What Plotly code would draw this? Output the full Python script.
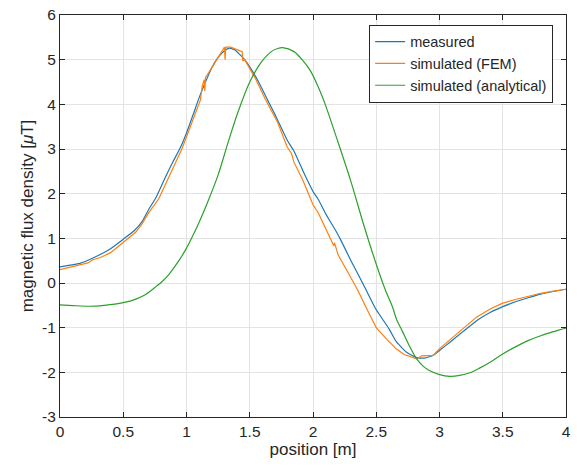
import plotly.graph_objects as go

# measured
meas_x = [0.0, 0.08, 0.157, 0.26, 0.39, 0.5, 0.59, 0.65, 0.7, 0.76, 0.835, 0.89, 0.95, 1.0, 1.05, 1.1, 1.15,
          1.2, 1.25, 1.3, 1.34, 1.38, 1.42, 1.46, 1.5, 1.57, 1.64, 1.7, 1.72, 1.8, 1.85, 1.93, 2.0, 2.04,
          2.1, 2.14, 2.19, 2.22, 2.3, 2.41, 2.5, 2.6, 2.66, 2.74, 2.82, 2.88, 2.92, 2.96, 3.0, 3.08, 3.18,
          3.31, 3.4, 3.5, 3.6, 3.7, 3.8, 3.9, 4.0]
meas_y = [0.36, 0.4, 0.44, 0.56, 0.75, 0.98, 1.18, 1.38, 1.64, 1.92, 2.38, 2.7, 3.02, 3.36, 3.75, 4.15, 4.5,
          4.82, 5.05, 5.2, 5.26, 5.22, 5.12, 5.0, 4.84, 4.5, 4.1, 3.77, 3.65, 3.18, 2.95, 2.45, 2.05, 1.88,
          1.55, 1.36, 1.12, 0.96, 0.5, -0.1, -0.6, -1.02, -1.32, -1.55, -1.67, -1.68, -1.65, -1.6, -1.51,
          -1.33, -1.1, -0.81, -0.66, -0.53, -0.42, -0.33, -0.25, -0.19, -0.14]

# simulated (FEM)
fem_x = [0.0, 0.08, 0.16, 0.22, 0.26, 0.32, 0.4, 0.5, 0.6, 0.65, 0.7, 0.78, 0.85, 0.9, 0.965, 1.03, 1.08,
         1.11, 1.125, 1.14, 1.145, 1.15, 1.2, 1.25, 1.28, 1.3, 1.305, 1.31, 1.35, 1.42, 1.44, 1.445, 1.46,
         1.49, 1.55, 1.62, 1.7, 1.72, 1.795, 1.83, 1.85, 1.92, 2.0, 2.04, 2.1, 2.14, 2.165, 2.17, 2.2,
         2.27, 2.35, 2.42, 2.5, 2.58, 2.66, 2.72, 2.82, 2.86, 2.95, 3.0, 3.09, 3.18, 3.29, 3.4, 3.5, 3.6,
         3.7, 3.8, 3.9, 4.0]
fem_y = [0.3, 0.35, 0.4, 0.45, 0.52, 0.57, 0.68, 0.9, 1.14, 1.33, 1.57, 1.88, 2.3, 2.62, 3.01, 3.5, 3.88,
         4.1, 4.42, 4.55, 4.3, 4.6, 4.82, 5.05, 5.2, 5.28, 5.0, 5.28, 5.28, 5.2, 5.18, 4.97, 5.0, 4.85,
         4.55, 4.13, 3.7, 3.6, 3.05, 2.9, 2.7, 2.3, 1.75, 1.58, 1.22, 1.0, 0.83, 0.9, 0.62, 0.27, -0.14,
         -0.55, -1.0, -1.25, -1.48, -1.6, -1.7, -1.63, -1.62, -1.47, -1.25, -1.02, -0.77, -0.58, -0.45,
         -0.37, -0.3, -0.23, -0.18, -0.14]

# simulated (analytical)
ana_x = [0.0, 0.1, 0.235, 0.35, 0.5, 0.6, 0.68, 0.75, 0.81, 0.86, 0.94, 1.0, 1.04, 1.1, 1.17, 1.25, 1.33,
         1.41, 1.5, 1.59, 1.67, 1.72, 1.76, 1.85, 1.92, 1.98, 2.04, 2.09, 2.19, 2.3, 2.4, 2.5, 2.57, 2.63,
         2.66, 2.71, 2.76, 2.82, 2.87, 2.92, 3.0, 3.08, 3.16, 3.24, 3.32, 3.42, 3.5, 3.6, 3.7, 3.8, 3.9,
         4.0]
ana_y = [-0.49, -0.505, -0.52, -0.5, -0.44, -0.36, -0.25, -0.1, 0.04, 0.19, 0.5, 0.78, 1.0, 1.36, 1.83,
         2.42, 3.16, 3.85, 4.5, 4.94, 5.18, 5.25, 5.27, 5.18, 4.98, 4.75, 4.4, 4.05, 3.22, 2.27, 1.31, 0.42,
         -0.14, -0.55, -0.81, -1.1, -1.4, -1.7, -1.86, -1.96, -2.05, -2.09, -2.07, -2.01, -1.9, -1.74,
         -1.59, -1.43, -1.29, -1.18, -1.09, -1.01]

x_ticks = [0, 0.5, 1, 1.5, 2, 2.5, 3, 3.5, 4]
y_ticks = [-3, -2, -1, 0, 1, 2, 3, 4, 5, 6]

fig = go.Figure()
fig.add_trace(go.Scatter(x=meas_x, y=meas_y, mode="lines", name="measured",
                         line=dict(color="#1f77b4", width=1.2, shape="spline", smoothing=0.5)))
fig.add_trace(go.Scatter(x=fem_x, y=fem_y, mode="lines", name="simulated (FEM)",
                         line=dict(color="#ff7f0e", width=1.2)))
fig.add_trace(go.Scatter(x=ana_x, y=ana_y, mode="lines", name="simulated (analytical)",
                         line=dict(color="#2ca02c", width=1.2, shape="spline", smoothing=0.9)))

axis_common = dict(showline=True, linecolor="#262626", linewidth=1, mirror="ticks",
                   ticks="inside", ticklen=5, tickcolor="#262626",
                   showgrid=True, gridcolor="#e3e3e3", gridwidth=1, zeroline=False,
                   tickfont=dict(size=15.5, color="#262626"))

fig.update_layout(
    width=577, height=475,
    margin=dict(l=60, r=6, t=13, b=58),
    paper_bgcolor="white", plot_bgcolor="white",
    font=dict(family="Liberation Sans, Arial, sans-serif", color="#262626", size=15),
    xaxis=dict(range=[0, 4], tickvals=x_ticks, ticktext=[f"{v:g}" for v in x_ticks],
               title=dict(text="position [m]", font=dict(size=17), standoff=4), **axis_common),
    yaxis=dict(range=[-3, 6], tickvals=y_ticks, ticktext=[f"{v:g}" for v in y_ticks],
               title=dict(text="magnetic flux density [<i>μ</i>T]", font=dict(size=17), standoff=4),
               **axis_common),
    legend=dict(x=0.9746, xanchor="right", y=0.976, yanchor="top",
                bgcolor="white", bordercolor="#262626", borderwidth=1,
                font=dict(size=14.5, color="#262626"), tracegroupgap=0),
    showlegend=True,
)

fig.write_html("out.html")
